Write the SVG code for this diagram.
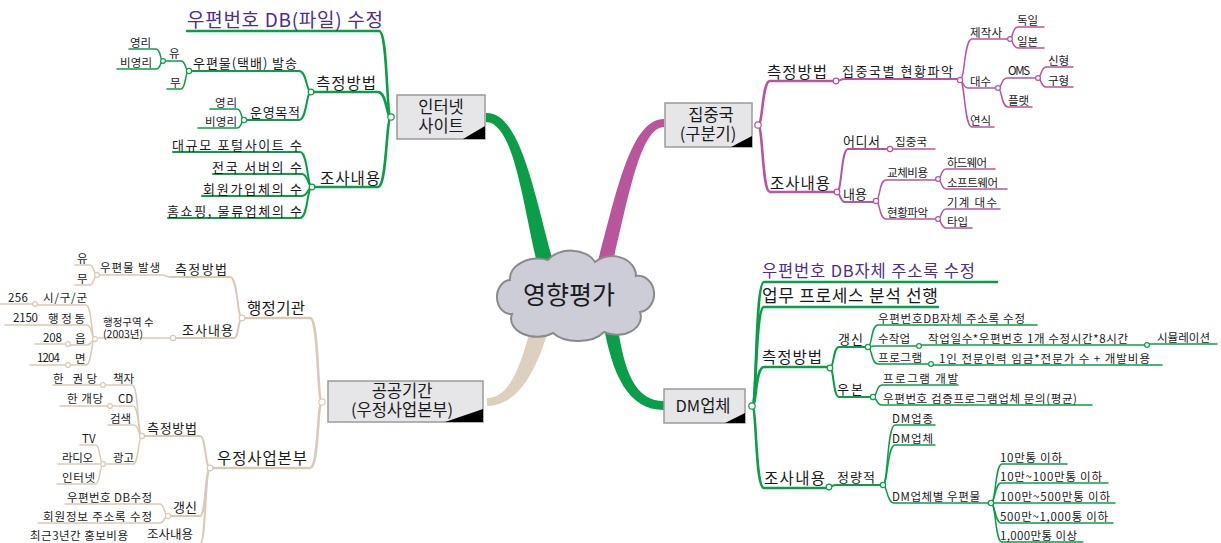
<svg xmlns="http://www.w3.org/2000/svg" width="1221" height="543" viewBox="0 0 1221 543">
<style>
text{font-family:"Noto Sans CJK KR","Noto Sans",sans-serif;fill:#1a1a1a}
.mid{text-anchor:middle}
.f0{font-size:25px}
.fb{font-size:16.5px}
.fp{font-size:19px;fill:#4f2c8e}
.fq{font-size:16.5px;fill:#4f2c8e}
.fr{font-size:17px}
.f1{font-size:15.5px}
.f2{font-size:13px}
.f3{font-size:11.5px}
.f4{font-size:10.5px}
.f5{font-size:12.5px}
.c path{fill:none;stroke-linecap:round}
.g{stroke:#0a9e48}
.m{stroke:#b9559b}
.b{stroke:#d9cab6}
.w1 path{stroke-width:2.6}
.w2 path{stroke-width:2}
.w3 path{stroke-width:1.5}
.j circle{fill:#fff;stroke-width:1.2}
.box{fill:#e6e6e9;stroke:#9b9b9b;stroke-width:1.5}
.tri{fill:#000}
</style>
<g id="branches">
<path d="M486 113 C522 112,535 200,556 272 L540 276 C523 208,515 123,486 122 Z" fill="#0a9e48"/>
<path d="M664 119 C630 119,616 195,596 268 L611 270 C628 200,640 127,664 127 Z" fill="#b9559b"/>
<path d="M487 406 C522 405,538 365,551 322 L533 320 C522 360,512 398,487 398 Z" fill="#ddd0bf"/>
<path d="M603 322 C612 375,628 410,664 410 L664 401 C635 401,624 372,617 322 Z" fill="#0a9e48"/>
</g>
<g id="center">
<path d="M510 280 A28 20 0 0 1 548 260 A26 18 0 0 1 595 262 A24 20 0 0 1 636 276 A16 18 0 0 1 640 312 A24 18 0 0 1 604 332 A30 18 0 0 1 553 333 A26 18 0 0 1 512 314 A14 17 0 0 1 510 280 Z" fill="#cdcdd8" stroke="#8a8a8a" stroke-width="2"/>
<text class="f0 mid" x="569" y="304">영향평가</text>
</g>
<g id="node-internet"><rect class="box" x="397" y="95" width="88" height="44"/><path class="tri" d="M463 139 L485 126 L485 139 Z"/><text class="fb mid"><tspan x="441" y="113">인터넷</tspan><tspan x="441" y="132">사이트</tspan></text></g>
<g id="node-jip"><rect class="box" x="665" y="103" width="87" height="44"/><path class="tri" d="M731 147 L752 136 L752 147 Z"/><text class="fb mid"><tspan x="711" y="120.5">집중국</tspan><tspan x="708" y="140">(구분기)</tspan></text></g>
<g id="node-public"><rect class="box" x="328" y="381" width="155" height="41"/><path class="tri" d="M445 422 L483 409 L483 422 Z"/><text class="fb mid"><tspan x="402" y="396.5">공공기간</tspan><tspan x="402" y="416">(우정사업본부)</tspan></text></g>
<g id="node-dm"><rect class="box" x="664" y="389" width="81" height="34"/><path class="tri" d="M725 423 L745 413 L745 423 Z"/><text class="fb mid" x="703" y="412">DM업체</text></g>

<g id="connectors" class="c">
<g class="g">
<g class="w1">
<path d="M391 117 C386 117,388 31,379 31 H187"/>
<path d="M391 117 C386 117,387 92,378 92 H311"/>
<path d="M391 117 C386 117,387 187,378 187 H312"/>
<path d="M752 406 C757 406,755 282,764 282 H997"/>
<path d="M752 406 C757 406,755 307,764 307 H938"/>
<path d="M752 406 C757 406,755 367,764 367 H828"/>
<path d="M752 406 C757 406,755 488,764 488 H827"/>
</g>
<g class="w2">
<path d="M311 92 C306 92,307 71,299 71 H191"/>
<path d="M311 92 C306 92,307 120,299 120 H244"/>
<path d="M312 187 C307 187,308 152,300 152 H173"/>
<path d="M312 187 C308 187,308 174,302 174 H213"/>
<path d="M312 187 C308 187,308 196,302 196 H202"/>
<path d="M312 187 C307 187,308 218,300 218 H168"/>
<path d="M830 368 C834 368,833 347,839 347 H866"/>
<path d="M830 368 C834 368,833 397,839 397 H871"/>
<path d="M829 487 C832 487,832 485,836 485 H881"/>
</g>
<g class="w3">
<path d="M189 71 C185 71,186 61,181 61 H164"/>
<path d="M189 71 C185 71,186 89,181 89 H167"/>
<path d="M163 61 C160 61,161 49,156 49 H129"/>
<path d="M163 61 C160 61,161 69,156 69 H117"/>
<path d="M244 120 C241 120,242 109,237 109 H210"/>
<path d="M244 120 C241 120,242 128,237 128 H198"/>
<path d="M868 347 C872 347,871 325,878 325 H1037"/>
<path d="M868 347 C871 347,871 346,875 346 H917"/>
<path d="M868 347 C872 347,871 364,878 364 H929"/>
<path d="M921 345 H1145"/>
<path d="M1149 344 H1217"/>
<path d="M933 365 H1162"/>
<path d="M873 397 C877 397,876 385,882 385 H958"/>
<path d="M873 397 C877 397,876 405,882 405 H1092"/>
<path d="M883 485 C888 485,887 425,895 425 H935"/>
<path d="M883 485 C888 485,887 445,895 445 H935"/>
<path d="M883 485 C887 485,887 503,894 503 H989"/>
<path d="M991 503 C996 503,995 464,1002 464 H1067"/>
<path d="M991 503 C995 503,995 483,1001 483 H1108"/>
<path d="M993 503 H1115"/>
<path d="M991 503 C995 503,995 523,1001 523 H1113"/>
<path d="M991 503 C996 503,995 542,1002 542 H1083"/>
</g>
<g class="j">
<circle cx="391" cy="117" r="3.2"/><circle cx="311" cy="92" r="2.8"/><circle cx="189" cy="71" r="2.6"/><circle cx="163" cy="61" r="2.4"/><circle cx="244" cy="120" r="2.6"/><circle cx="312" cy="187" r="2.8"/>
<circle cx="752" cy="406" r="3.2"/><circle cx="830" cy="368" r="2.8"/><circle cx="868" cy="347" r="2.6"/><circle cx="919" cy="346" r="2.4"/><circle cx="1147" cy="345" r="2.4"/><circle cx="931" cy="364" r="2.4"/><circle cx="873" cy="397" r="2.6"/><circle cx="829" cy="487" r="2.8"/><circle cx="883" cy="485" r="2.6"/><circle cx="991" cy="503" r="2.6"/>
</g>
</g>
<g class="m">
<g class="w1">
<path d="M758 125 C763 125,762 81,770 81 H836"/>
<path d="M758 125 C763 125,762 192,770 192 H835"/>
</g>
<g class="w2">
<path d="M836 81 C840 81,840 79,845 79 H958"/>
<path d="M837 192 C842 192,841 149,848 149 H888"/>
<path d="M837 192 C840 192,840 202,845 202 H874"/>
</g>
<g class="w3">
<path d="M960 80 C965 80,964 39,972 39 H1008"/>
<path d="M960 80 C963 80,963 88,968 88 H996"/>
<path d="M960 80 C965 80,964 127,972 127 H994"/>
<path d="M1010 39 C1013 39,1012 27,1018 27 H1044"/>
<path d="M1010 39 C1013 39,1012 48,1018 48 H1044"/>
<path d="M998 88 C1002 88,1001 78,1007 78 H1036"/>
<path d="M998 88 C1002 88,1001 107,1008 107 H1032"/>
<path d="M1038 78 C1041 78,1041 67,1046 67 H1073"/>
<path d="M1038 78 C1041 78,1041 87,1046 87 H1073"/>
<path d="M890 149 H935"/>
<path d="M876 201 C880 201,879 180,886 180 H936"/>
<path d="M876 201 C880 201,879 219,886 219 H936"/>
<path d="M938 179 C941 179,941 169,946 169 H995"/>
<path d="M938 179 C941 179,941 189,946 189 H1007"/>
<path d="M938 219 C941 219,941 209,946 209 H1000"/>
<path d="M938 219 C941 219,941 228,946 228 H972"/>
</g>
<g class="j">
<circle cx="758" cy="125" r="3.2"/><circle cx="836" cy="81" r="2.8"/><circle cx="960" cy="80" r="2.6"/><circle cx="1010" cy="39" r="2.4"/><circle cx="998" cy="88" r="2.4"/><circle cx="1038" cy="78" r="2.4"/><circle cx="837" cy="192" r="2.8"/><circle cx="890" cy="149" r="2.6"/><circle cx="876" cy="201" r="2.6"/><circle cx="938" cy="179" r="2.4"/><circle cx="938" cy="219" r="2.4"/>
</g>
</g>
<g class="b">
<g class="w1">
<path d="M322 402 C317 402,319 318,310 318 H242"/>
<path d="M322 402 C317 402,319 468,310 468 H212"/>
</g>
<g class="w2">
<path d="M242 318 C237 318,238 277,230 277 H170"/>
<path d="M242 318 C238 318,239 338,234 338 H175"/>
<path d="M210 468 C205 468,206 436,200 436 H144"/>
<path d="M210 468 C205 468,206 516,200 516 H170"/>
<path d="M210 468 C205 468,206 544,200 544 H140"/>
</g>
<g class="w3">
<path d="M170 277 C166 277,166 275,162 275 H99"/>
<path d="M97 275 C94 275,94 265,90 265 H75"/>
<path d="M97 275 C94 275,94 285,90 285 H75"/>
<path d="M173 338 H99"/>
<path d="M95 339 C91 339,92 305,86 305 H37"/>
<path d="M33 304 H0"/>
<path d="M95 339 C92 339,92 325,87 325 H5"/>
<path d="M95 339 C92 339,92 345,87 345 H70"/>
<path d="M66 344 H35"/>
<path d="M95 339 C91 339,92 365,86 365 H70"/>
<path d="M66 365 H30"/>
<path d="M142 436 C137 436,139 385,132 385 H105"/>
<path d="M101 385 H53"/>
<path d="M142 436 C138 436,139 406,133 406 H112"/>
<path d="M108 406 H60"/>
<path d="M142 436 C138 436,139 425,134 425 H108"/>
<path d="M142 436 C138 436,139 464,133 464 H105"/>
<path d="M103 464 C100 464,100 445,96 445 H80"/>
<path d="M101 464 H58"/>
<path d="M103 464 C100 464,100 484,96 484 H57"/>
<path d="M168 516 C164 516,165 504,160 504 H65"/>
<path d="M168 516 C164 516,165 523,160 523 H38"/>
</g>
<g class="j">
<circle cx="322" cy="402" r="3.2"/><circle cx="242" cy="318" r="2.8"/><circle cx="97" cy="275" r="2.4"/><circle cx="173" cy="338" r="2.6"/><circle cx="95" cy="339" r="2.4"/><circle cx="35" cy="304" r="2.4"/><circle cx="68" cy="344" r="2.4"/><circle cx="68" cy="365" r="2.4"/><circle cx="210" cy="468" r="2.8"/><circle cx="142" cy="436" r="2.6"/><circle cx="103" cy="385" r="2.4"/><circle cx="110" cy="406" r="2.4"/><circle cx="103" cy="464" r="2.4"/><circle cx="168" cy="516" r="2.6"/>
</g>
</g>
</g>

<g id="n-i1"><text class="fp" x="187" y="27" textLength="196">우편번호 DB(파일) 수정</text></g>
<g id="n-i2"><text class="f1" x="316" y="89" textLength="60">측정방법</text></g>
<g id="n-i3"><text class="f2" x="193" y="68" textLength="104">우편물(택배) 발송</text></g>
<g id="n-i4"><text class="f3" x="169" y="58">유</text></g>
<g id="n-i5"><text class="f3" x="130" y="47" textLength="21">영리</text></g>
<g id="n-i6"><text class="f3" x="120" y="67" textLength="32">비영리</text></g>
<g id="n-i7"><text class="f3" x="170" y="87">무</text></g>
<g id="n-i8"><text class="f2" x="250" y="117" textLength="50">운영목적</text></g>
<g id="n-i9"><text class="f3" x="215" y="107" textLength="22">영리</text></g>
<g id="n-i10"><text class="f3" x="205" y="126" textLength="32">비영리</text></g>
<g id="n-i11"><text class="f1" x="320" y="184" textLength="60">조사내용</text></g>
<g id="n-i12"><text class="f2" x="172" y="149.5" textLength="130">대규모 포털사이트 수</text></g>
<g id="n-i13"><text class="f2" x="212" y="171.5" textLength="90">전국 서버의 수</text></g>
<g id="n-i14"><text class="f2" x="203" y="193.5" textLength="99">회원가입체의 수</text></g>
<g id="n-i15"><text class="f2" x="167" y="215.5" textLength="135">홈쇼핑, 물류업체의 수</text></g>

<g id="n-j1"><text class="f1" x="767" y="77.5" textLength="60">측정방법</text></g>
<g id="n-j2"><text class="f2" x="842" y="76" textLength="111">집중국별 현황파악</text></g>
<g id="n-j3"><text class="f3" x="970" y="36.5" textLength="32">제작사</text></g>
<g id="n-j4"><text class="f3" x="1017" y="25">독일</text></g>
<g id="n-j5"><text class="f3" x="1017" y="45.5">일본</text></g>
<g id="n-j6"><text class="f3" x="970" y="86">대수</text></g>
<g id="n-j7"><text class="f3" x="1008" y="75" textLength="22">OMS</text></g>
<g id="n-j8"><text class="f3" x="1048" y="64.5">신형</text></g>
<g id="n-j9"><text class="f3" x="1048" y="84.5">구형</text></g>
<g id="n-j10"><text class="f3" x="1008" y="104.5">플랫</text></g>
<g id="n-j11"><text class="f3" x="970" y="124.5">연식</text></g>
<g id="n-j12"><text class="f1" x="770" y="188.5" textLength="60">조사내용</text></g>
<g id="n-j13"><text class="f2" x="843" y="146" textLength="37">어디서</text></g>
<g id="n-j14"><text class="f3" x="895" y="145.5" textLength="32">집중국</text></g>
<g id="n-j15"><text class="f2" x="843" y="199" textLength="24">내용</text></g>
<g id="n-j16"><text class="f3" x="887" y="177" textLength="41">교체비용</text></g>
<g id="n-j17"><text class="f3" x="947" y="166.5" textLength="40">하드웨어</text></g>
<g id="n-j18"><text class="f3" x="947" y="186.5" textLength="51">소프트웨어</text></g>
<g id="n-j19"><text class="f3" x="887" y="216.5" textLength="41">현황파악</text></g>
<g id="n-j20"><text class="f3" x="947" y="206.5" textLength="50">기계 대수</text></g>
<g id="n-j21"><text class="f3" x="947" y="225.5">타입</text></g>

<g id="n-d1"><text class="fq" x="762" y="277" textLength="213">우편번호 DB자체 주소록 수정</text></g>
<g id="n-d2"><text class="fr" x="762" y="302" textLength="176">업무 프로세스 분석 선행</text></g>
<g id="n-d3"><text class="f1" x="762" y="363" textLength="60">측정방법</text></g>
<g id="n-d4"><text class="f2" x="838" y="344" textLength="25">갱신</text></g>
<g id="n-d5"><text class="f3" x="878" y="322.5" textLength="147">우편번호DB자체 주소록 수정</text></g>
<g id="n-d6"><text class="f3" x="878" y="343" textLength="32">수작업</text></g>
<g id="n-d7"><text class="f3" x="928" y="342.5" textLength="200">작업일수*우편번호 1개 수정시간*8시간</text></g>
<g id="n-d8"><text class="f3" x="1157" y="342" textLength="53">시뮬레이션</text></g>
<g id="n-d9"><text class="f3" x="878" y="361.5" textLength="44">프로그램</text></g>
<g id="n-d10"><text class="f3" x="939" y="362.5" textLength="211">1인 전문인력 임금*전문가 수 + 개발비용</text></g>
<g id="n-d11"><text class="f2" x="837" y="394" textLength="26">우본</text></g>
<g id="n-d12"><text class="f3" x="883" y="382.5" textLength="75">프로그램 개발</text></g>
<g id="n-d13"><text class="f3" x="883" y="402.5" textLength="194">우편번호 검증프로그램업체 문의(평균)</text></g>
<g id="n-d14"><text class="f1" x="764" y="483.5" textLength="61">조사내용</text></g>
<g id="n-d15"><text class="f2" x="837" y="481.5" textLength="38">정량적</text></g>
<g id="n-d16"><text class="f3" x="892" y="422.5" textLength="41">DM업종</text></g>
<g id="n-d17"><text class="f3" x="892" y="442.5" textLength="41">DM업체</text></g>
<g id="n-d18"><text class="f3" x="892" y="500.5" textLength="88">DM업체별 우편물</text></g>
<g id="n-d19"><text class="f3" x="1000" y="461.5" textLength="62">10만통 이하</text></g>
<g id="n-d20"><text class="f3" x="1000" y="480.5" textLength="102">10만~100만통 이하</text></g>
<g id="n-d21"><text class="f3" x="1000" y="500.5" textLength="110">100만~500만통 이하</text></g>
<g id="n-d22"><text class="f3" x="1000" y="520.5" textLength="108">500만~1,000통 이하</text></g>
<g id="n-d23"><text class="f3" x="1000" y="539.5" textLength="77">1,000만통 이상</text></g>

<g id="n-p1"><text class="f1" x="247" y="314" textLength="58">행정기관</text></g>
<g id="n-p2"><text class="f2" x="175" y="274" textLength="52">측정방법</text></g>
<g id="n-p3"><text class="f3" x="100" y="272" textLength="60">우편물 발생</text></g>
<g id="n-p4"><text class="f3" x="77" y="262.5">유</text></g>
<g id="n-p5"><text class="f3" x="77" y="282.5">무</text></g>
<g id="n-p6"><text class="f2" x="182" y="334.5" textLength="51">조사내용</text></g>
<g id="n-p7"><text class="f4"><tspan x="103" y="326">행정구역 수</tspan><tspan x="103" y="337.5">(2003년)</tspan></text></g>
<g id="n-p8"><text class="f3" x="43" y="302" textLength="44">시/구/군</text></g>
<g id="n-p9"><text class="f3" x="8" y="301.5" textLength="20">256</text></g>
<g id="n-p10"><text class="f3" x="48" y="322.5" textLength="37">행정동</text></g>
<g id="n-p11"><text class="f3" x="13" y="322" textLength="25">2150</text></g>
<g id="n-p12"><text class="f3" x="75" y="342.5">읍</text></g>
<g id="n-p13"><text class="f3" x="43" y="341.5" textLength="19">208</text></g>
<g id="n-p14"><text class="f3" x="75" y="362.5">면</text></g>
<g id="n-p15"><text class="f3" x="37" y="362" textLength="23">1204</text></g>
<g id="n-p16"><text class="f1" x="217" y="464" textLength="90">우정사업본부</text></g>
<g id="n-p17"><text class="f2" x="147" y="432.5" textLength="50">측정방법</text></g>
<g id="n-p18"><text class="f3" x="113" y="382.5">책자</text></g>
<g id="n-p19"><text class="f3" x="53" y="382.5" textLength="44">한 권당</text></g>
<g id="n-p20"><text class="f3" x="118" y="403">CD</text></g>
<g id="n-p21"><text class="f3" x="67" y="403" textLength="36">한 개당</text></g>
<g id="n-p22"><text class="f3" x="110" y="422.5">검색</text></g>
<g id="n-p23"><text class="f3" x="113" y="461.5">광고</text></g>
<g id="n-p24"><text class="f3" x="82" y="443">TV</text></g>
<g id="n-p25"><text class="f3" x="62" y="461.5" textLength="31">라디오</text></g>
<g id="n-p26"><text class="f3" x="62" y="481.5" textLength="33">인터넷</text></g>
<g id="n-p27"><text class="f2" x="173" y="512" textLength="24">갱신</text></g>
<g id="n-p28"><text class="f3" x="67" y="501.5" textLength="85">우편번호 DB수정</text></g>
<g id="n-p29"><text class="f3" x="43" y="520.5" textLength="109">회원정보 주소록 수정</text></g>
<g id="n-p30"><text class="f5" x="147" y="539">조사내용</text></g>
<g id="n-p31"><text class="f3" x="30" y="539.5" textLength="98">최근3년간 홍보비용</text></g>
</svg>
